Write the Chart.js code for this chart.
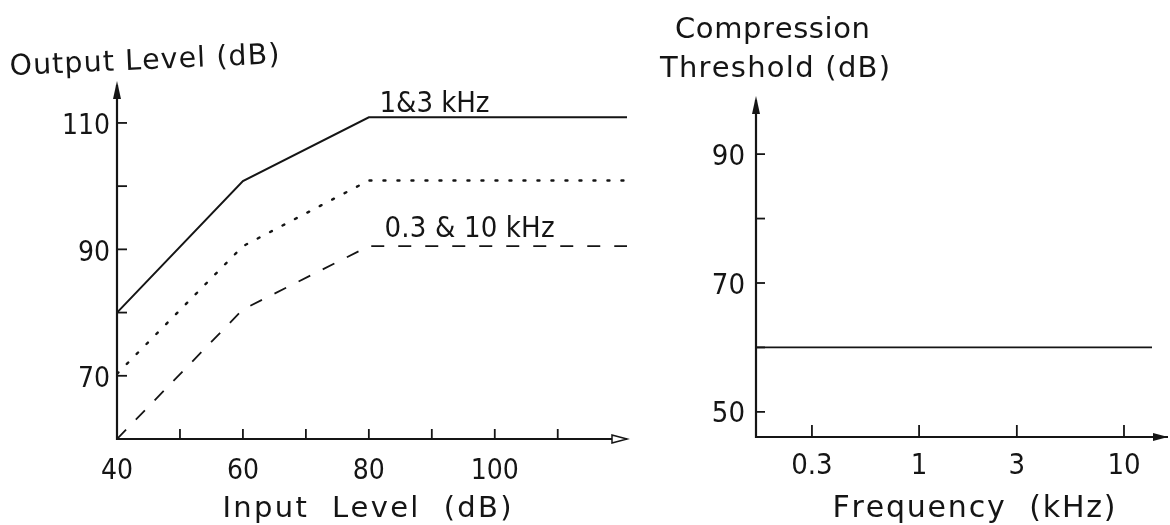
<!DOCTYPE html>
<html><head><meta charset="utf-8">
<script src="https://cdn.jsdelivr.net/npm/chart.js@4.4.0/dist/chart.umd.min.js"></script>
<style>
html,body{margin:0;padding:0;background:#fff;width:1170px;height:525px;overflow:hidden}
#c1{position:absolute;left:0;top:0}
#c2{position:absolute;left:650px;top:0}
</style></head><body>
<canvas id="c1" width="650" height="525"></canvas>
<canvas id="c2" width="520" height="525"></canvas>
<script>
// ---- data ----
const inputLevels = [40, 60, 80, 121];
const out1and3kHz = [80, 100.8, 110.9, 110.9];
const outMid = [70.3, 90.5, 100.9, 100.9];
const out03and10kHz = [60, 80.5, 90.5, 90.5];

const leftXTicks = [40, 50, 60, 70, 80, 90, 100, 110, 120];
const leftXLabels = ['40', '', '60', '', '80', '', '100', '', ''];
const leftYTicks = [60, 70, 80, 90, 100, 110];
const leftYLabels = ['', '70', '', '90', '', '110'];

const freqs = [0.16, 0.3, 1, 3, 10, 13.7];
const threshold = [60, 60, 60, 60, 60, 60];
const rightXTicks = [0.3, 1, 3, 10];
const rightXLabels = ['0.3', '1', '3', '10'];
const rightYTicks = [50, 60, 70, 80, 90];
const rightYLabels = ['50', '', '70', '', '90'];

const INK = '#151515';
const FONT = "'DejaVu Sans Condensed','DejaVu Sans',sans-serif";
const TFONT = "'DejaVu Sans',sans-serif";

function labelFrom(ticks, labels) {
  return function (v) {
    const i = ticks.findIndex(t => Math.abs(t - v) < 1e-9);
    return i >= 0 ? labels[i] : '';
  };
}

// draws text spread to a given width (the scan's lettering is wide-spaced)
function spacedText(ctx, str, x, y, width, align) {
  const chars = Array.from(str);
  const widths = chars.map(c => ctx.measureText(c).width);
  const natural = widths.reduce((s, w) => s + w, 0);
  const gap = chars.length > 1 ? (width - natural) / (chars.length - 1) : 0;
  let start = x;
  if (align === 'center') start = x - width / 2;
  ctx.textAlign = 'left';
  let cx = start;
  chars.forEach((c, i) => { ctx.fillText(c, cx, y); cx += widths[i] + gap; });
}

function axesPlugin(cfg) {
  return {
    id: 'axesDecor',
    afterDraw(chart) {
      const ctx = chart.ctx;
      const a = chart.chartArea;
      const xs = chart.scales.x, ys = chart.scales.y;
      ctx.save();
      ctx.strokeStyle = INK; ctx.fillStyle = INK;
      ctx.lineWidth = 2.2; ctx.lineCap = 'butt';
      ctx.beginPath();
      ctx.moveTo(a.left, a.top); ctx.lineTo(a.left, a.bottom);
      ctx.lineTo(a.right + cfg.xArrowExtra, a.bottom);
      ctx.stroke();
      ctx.lineWidth = 1.8;
      cfg.xTicks.forEach(v => {
        const p = xs.getPixelForValue(v);
        if (p > a.left + 3 && p < a.right - 10) {
          ctx.beginPath(); ctx.moveTo(p, a.bottom); ctx.lineTo(p, a.bottom - cfg.xTickLen); ctx.stroke();
        }
      });
      cfg.yTicks.forEach(v => {
        const p = ys.getPixelForValue(v);
        if (p < a.bottom - 3 && p > a.top + 10) {
          ctx.beginPath(); ctx.moveTo(a.left, p); ctx.lineTo(a.left + cfg.yTickLen, p); ctx.stroke();
        }
      });
      ctx.beginPath();
      ctx.moveTo(a.left, a.top - 4);
      ctx.lineTo(a.left - 4, a.top + 14);
      ctx.lineTo(a.left + 4, a.top + 14);
      ctx.closePath(); ctx.fill();
      const tip = a.right + cfg.xArrowExtra;
      ctx.beginPath();
      ctx.moveTo(tip, a.bottom);
      ctx.lineTo(tip - 15, a.bottom - 4);
      ctx.lineTo(tip - 15, a.bottom + 4);
      ctx.closePath();
      if (cfg.hollowArrow) { ctx.lineWidth = 1.5; ctx.fillStyle = '#fff'; ctx.fill(); ctx.stroke(); ctx.fillStyle = INK; }
      else ctx.fill();
      ctx.textBaseline = 'alphabetic';
      cfg.texts.forEach(t => {
        ctx.font = t.size + 'px ' + (t.family || TFONT);
        let x = t.x, y = t.y;
        if (t.data) { x = xs.getPixelForValue(t.data[0]); y = ys.getPixelForValue(t.data[1]); }
        ctx.save();
        if (t.rotate) {
          ctx.translate(x, y); ctx.rotate(t.rotate * Math.PI / 180); x = 0; y = 0;
        }
        spacedText(ctx, t.text, x, y, t.width, t.align);
        ctx.restore();
      });
      ctx.restore();
    }
  };
}

Chart.defaults.font.family = FONT;
Chart.defaults.color = INK;

// ---- left chart ----
new Chart(document.getElementById('c1'), {
  type: 'line',
  data: {
    datasets: [
      { label: '1&3 kHz', data: inputLevels.map((x, i) => ({ x, y: out1and3kHz[i] })),
        borderColor: INK, borderWidth: 2, pointRadius: 0, tension: 0 },
      { label: 'mid', data: inputLevels.map((x, i) => ({ x, y: outMid[i] })),
        borderColor: INK, borderWidth: 2.4, borderDash: [2, 12], borderCapStyle: 'round', pointRadius: 0, tension: 0 },
      { label: '0.3 & 10 kHz', data: inputLevels.map((x, i) => ({ x, y: out03and10kHz[i] })),
        borderColor: INK, borderWidth: 1.8, borderDash: [13, 14], pointRadius: 0, tension: 0 }
    ]
  },
  options: {
    responsive: false, animation: false,
    layout: { padding: { left: 0, top: 85, right: 23, bottom: 0 } },
    plugins: { legend: { display: false }, tooltip: { enabled: false } },
    scales: {
      x: { type: 'linear', min: 40, max: 121,
        grid: { display: false, drawTicks: false }, border: { display: false },
        afterBuildTicks: s => { s.ticks = leftXTicks.map(v => ({ value: v })); },
        afterFit: s => { s.height = 86; },
        ticks: { autoSkip: false, maxRotation: 0, padding: 16, color: INK,
          font: { size: 28, family: FONT }, callback: labelFrom(leftXTicks, leftXLabels) } },
      y: { type: 'linear', min: 60, max: 116,
        grid: { display: false, drawTicks: false }, border: { display: false },
        afterBuildTicks: s => { s.ticks = leftYTicks.map(v => ({ value: v })); },
        afterFit: s => { s.width = 117; },
        ticks: { autoSkip: false, padding: 7, labelOffset: 4, color: INK,
          font: { size: 28, family: FONT }, callback: labelFrom(leftYTicks, leftYLabels) } }
    }
  },
  plugins: [axesPlugin({
    xTicks: leftXTicks, yTicks: leftYTicks, xTickLen: 10, yTickLen: 10, xArrowExtra: 0, hollowArrow: true,
    texts: [
      { text: 'Output Level (dB)', x: 10, y: 75, size: 28.5, width: 270, rotate: -2.5 },
      { text: 'Input  Level  (dB)', x: 367, y: 517, size: 29, width: 289, align: 'center' },
      { text: '1&3 kHz', data: [81.7, 111.7], size: 29, width: 110, family: FONT },
      { text: '0.3 & 10 kHz', data: [82.5, 92], size: 29, width: 170, family: FONT }
    ]
  })]
});

// ---- right chart ----
new Chart(document.getElementById('c2'), {
  type: 'line',
  data: {
    datasets: [
      { label: 'Compression threshold', data: freqs.map((x, i) => ({ x, y: threshold[i] })),
        borderColor: INK, borderWidth: 1.8, pointRadius: 0, tension: 0 }
    ]
  },
  options: {
    responsive: false, animation: false,
    layout: { padding: { left: 0, top: 100, right: 18, bottom: 0 } },
    plugins: { legend: { display: false }, tooltip: { enabled: false } },
    scales: {
      x: { type: 'logarithmic', min: 0.16, max: 13.7,
        grid: { display: false, drawTicks: false }, border: { display: false },
        afterBuildTicks: s => { s.ticks = rightXTicks.map(v => ({ value: v })); },
        afterFit: s => { s.height = 88; },
        ticks: { autoSkip: false, maxRotation: 0, padding: 12, color: INK,
          font: { size: 29, family: FONT }, callback: labelFrom(rightXTicks, rightXLabels) } },
      y: { type: 'linear', min: 46.1, max: 98.4,
        grid: { display: false, drawTicks: false }, border: { display: false },
        afterBuildTicks: s => { s.ticks = rightYTicks.map(v => ({ value: v })); },
        afterFit: s => { s.width = 106; },
        ticks: { autoSkip: false, padding: 11, labelOffset: 3, color: INK,
          font: { size: 29, family: FONT }, callback: labelFrom(rightYTicks, rightYLabels) } }
    }
  },
  plugins: [axesPlugin({
    xTicks: rightXTicks, yTicks: rightYTicks, xTickLen: 12, yTickLen: 9, xArrowExtra: 16, hollowArrow: false,
    texts: [
      { text: 'Compression', x: 25, y: 38, size: 29, width: 195 },
      { text: 'Threshold (dB)', x: 10, y: 77, size: 29, width: 230 },
      { text: 'Frequency  (kHz)', x: 324, y: 517, size: 30, width: 283, align: 'center' }
    ]
  })]
});
</script>
</body></html>
